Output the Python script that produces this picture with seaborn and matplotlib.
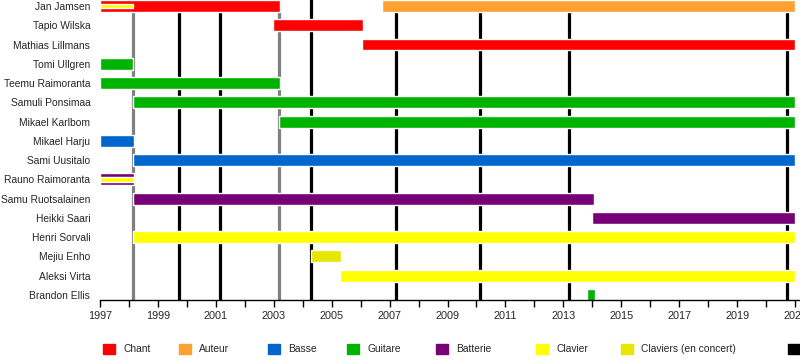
import matplotlib
matplotlib.use('Agg')
import matplotlib.pyplot as plt
import matplotlib.patches as mpatches
import seaborn as sns
import pandas as pd

# members, top to bottom
members = ['Jan Jamsen', 'Tapio Wilska', 'Mathias Lillmans', 'Tomi Ullgren',
           'Teemu Raimoranta', 'Samuli Ponsimaa', 'Mikael Karlbom', 'Mikael Harju',
           'Sami Uusitalo', 'Rauno Raimoranta', 'Samu Ruotsalainen', 'Heikki Saari',
           'Henri Sorvali', 'Mejiu Enho', 'Aleksi Virta', 'Brandon Ellis']

# main bars
bar_member = ['Jan Jamsen', 'Jan Jamsen', 'Tapio Wilska', 'Mathias Lillmans',
              'Tomi Ullgren', 'Teemu Raimoranta', 'Samuli Ponsimaa', 'Mikael Karlbom',
              'Mikael Harju', 'Sami Uusitalo', 'Rauno Raimoranta', 'Samu Ruotsalainen',
              'Heikki Saari', 'Henri Sorvali', 'Mejiu Enho', 'Aleksi Virta', 'Brandon Ellis']
bar_role = ['Chant', 'Auteur', 'Chant', 'Chant',
            'Guitare', 'Guitare', 'Guitare', 'Guitare',
            'Basse', 'Basse', 'Batterie', 'Batterie',
            'Batterie', 'Clavier', 'Claviers (en concert)', 'Clavier', 'Guitare']
bar_start = [1997.0, 2006.74, 2002.97, 2006.05,
             1997.0, 1997.0, 1998.14, 2003.18,
             1997.0, 1998.14, 1997.0, 1998.14,
             2014.0, 1998.14, 2004.29, 2005.3, 2013.8]
bar_end = [2003.2, 2021.0, 2006.08, 2021.0,
           1998.14, 2003.2, 2021.0, 2021.0,
           1998.16, 2021.0, 1998.16, 2014.05,
           2021.0, 2021.0, 2005.32, 2021.0, 2014.1]

# thin secondary role stripes
stripe_member = ['Jan Jamsen', 'Rauno Raimoranta']
stripe_role = ['Clavier', 'Clavier']
stripe_start = [1997.0, 1997.0]
stripe_end = [1998.14, 1998.16]

# releases
albums = [1999.73, 2001.14, 2004.29, 2007.22, 2010.12, 2013.19, 2020.72]
eps = [1998.14, 2003.18]

roles = ['Chant', 'Auteur', 'Basse', 'Guitare', 'Batterie', 'Clavier',
         'Claviers (en concert)', 'Albums studio']
role_colors = ['#ff0000', '#ffa030', '#0066cc', '#00b300', '#770077', '#ffff00',
               '#e6e600', '#000000']

sns.set_style('white')
plt.rcParams['font.family'] = ['Liberation Sans', 'DejaVu Sans']
plt.rcParams['font.size'] = 7.4

palette = dict(zip(roles, role_colors))
bars = pd.DataFrame({'member': bar_member, 'role': bar_role,
                     'start': bar_start, 'end': bar_end})
stripes = pd.DataFrame({'member': stripe_member, 'role': stripe_role,
                        'start': stripe_start, 'end': stripe_end})
row = {m: i for i, m in enumerate(members)}

fig = plt.figure(figsize=(8, 3.6), dpi=100)
ax = fig.add_axes([0.125, 60 / 360, 0.875, 300 / 360])

for x in eps:
    ax.axvline(x, color='#808080', lw=2.3, zorder=1)
for x in albums:
    ax.axvline(x, color='black', lw=2.3, zorder=1)

ax.barh(bars['member'].map(row), bars['end'] - bars['start'], left=bars['start'],
        height=0.62, color=bars['role'].map(palette), zorder=2)
ax.barh(stripes['member'].map(row), stripes['end'] - stripes['start'],
        left=stripes['start'], height=0.24, color=stripes['role'].map(palette), zorder=3)

ax.set_xlim(1997, 2021.17)
ax.set_ylim(15.26, -0.31)
ax.set_yticks(range(len(members)))
ax.set_yticklabels(members)
ax.tick_params(axis='y', length=0, pad=7)
ax.set_xticks(range(1997, 2022, 2))
ax.set_xticks(range(1997, 2022), minor=True)
ax.tick_params(axis='x', which='both', direction='out', length=5, width=1, pad=3,
               bottom=True, color='black', labelsize=7.8)
sns.despine(ax=ax, left=True, top=True, right=True)
ax.spines['bottom'].set_color('black')
ax.spines['bottom'].set_linewidth(1)

# legend entries sit at fixed spots along the bottom, like the original
legend_x = [103, 179, 268, 347, 436, 536, 621, 788]
for r, c, x in zip(roles, role_colors, legend_x):
    fig.legend(handles=[mpatches.Patch(color=c, label=r)], loc='center left',
               bbox_to_anchor=(x / 800, 11 / 360), frameon=False, borderpad=0,
               borderaxespad=0, handlelength=1.2, handleheight=1.2,
               handletextpad=0.75, fontsize=7.4)

fig.savefig('out.png', dpi=100)
